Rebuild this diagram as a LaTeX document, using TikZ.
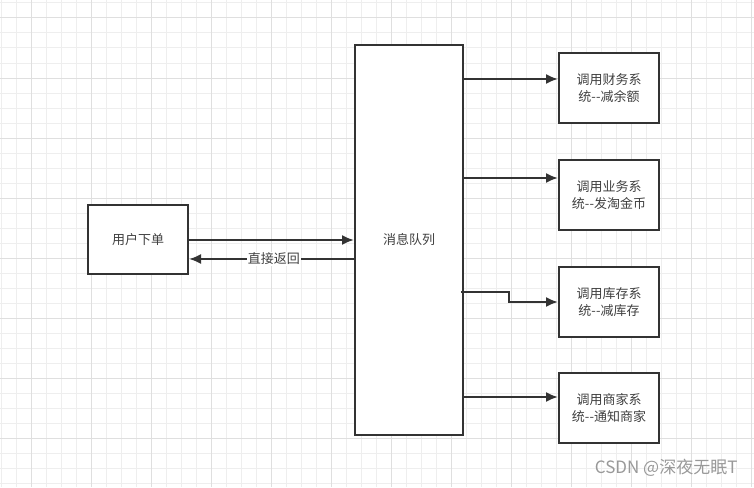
\documentclass[tikz,border=0pt]{standalone}
\usepackage{fontspec}
\newfontfamily\cjk{Noto Sans CJK SC}
\usetikzlibrary{arrows.meta}

\definecolor{gridminor}{HTML}{EEEEEE}
\definecolor{gridmajor}{HTML}{DFDFDF}
\definecolor{boxline}{HTML}{333333}
\definecolor{boxtext}{HTML}{404040}

\tikzset{
    sysbox/.style={draw=boxline, line width=2pt, fill=white, minimum width=100pt,
        align=center, font=\cjk\fontsize{13}{17}\selectfont, text=boxtext, inner sep=0pt},
    flow/.style={draw=boxline, line width=2pt, -{Latex[length=12pt,width=10pt]}}
}

\begin{document}
\begin{tikzpicture}[x=1pt,y=-1pt]
        \useasboundingbox (0,0) rectangle (754,487);
        \fill[white] (0,0) rectangle (754,487);

        % draw the grid
        \foreach \x in {1,16,...,754} {
            \draw[gridminor, line width=1pt] (\x,0) -- (\x,487);
        }
        \foreach \y in {3,18,...,487} {
            \draw[gridminor, line width=1pt] (0,\y) -- (754,\y);
        }
        \foreach \x in {31,91,...,754} {
            \draw[gridmajor, line width=1pt] (\x,0) -- (\x,487);
        }
        \foreach \y in {18,78,...,487} {
            \draw[gridmajor, line width=1pt] (0,\y) -- (754,\y);
        }

        % the boxes
        \node[sysbox, minimum height=69pt] (user) at (138,239.5) {用户下单};
        \node[sysbox, minimum width=108pt, minimum height=390pt] (mq) at (409,240) {消息队列};
        \node[sysbox, minimum height=70pt] (fin) at (609,88) {调用财务系\\统--减余额};
        \node[sysbox, minimum height=70pt] (biz) at (609,195) {调用业务系\\统--发淘金币};
        \node[sysbox, minimum height=70pt] (stock) at (609,302) {调用库存系\\统--减库存};
        \node[sysbox, minimum height=70pt] (shop) at (609,407.5) {调用商家系\\统--通知商家};

        % user and queue
        \draw[flow] (user.east |- 0,240) -- (mq.west |- 0,240);
        \draw[flow] (mq.west |- 0,259) -- (user.east |- 0,259)
            node[pos=0.485, fill=white, inner sep=1pt, text=boxtext,
                 font=\cjk\fontsize{13}{15}\selectfont] (back) {直接返回};

        % queue to the systems
        \draw[flow] (mq.east |- 0,79) -- (fin.west |- 0,79);
        \draw[flow] (mq.east |- 0,178) -- (biz.west |- 0,178);
        \coordinate (bend) at (461,292);
        \draw[flow] (bend) -- (509,292) -- (509,302) -- (stock.west);
        \draw[flow] (mq.east |- 0,397) -- (shop.west |- 0,397);

        % watermark
        \node[text=black!40, font=\cjk\fontsize{17}{20}\selectfont, anchor=east] (mark) at (741,468) {CSDN @深夜无眠T};
\end{tikzpicture}
\end{document}
